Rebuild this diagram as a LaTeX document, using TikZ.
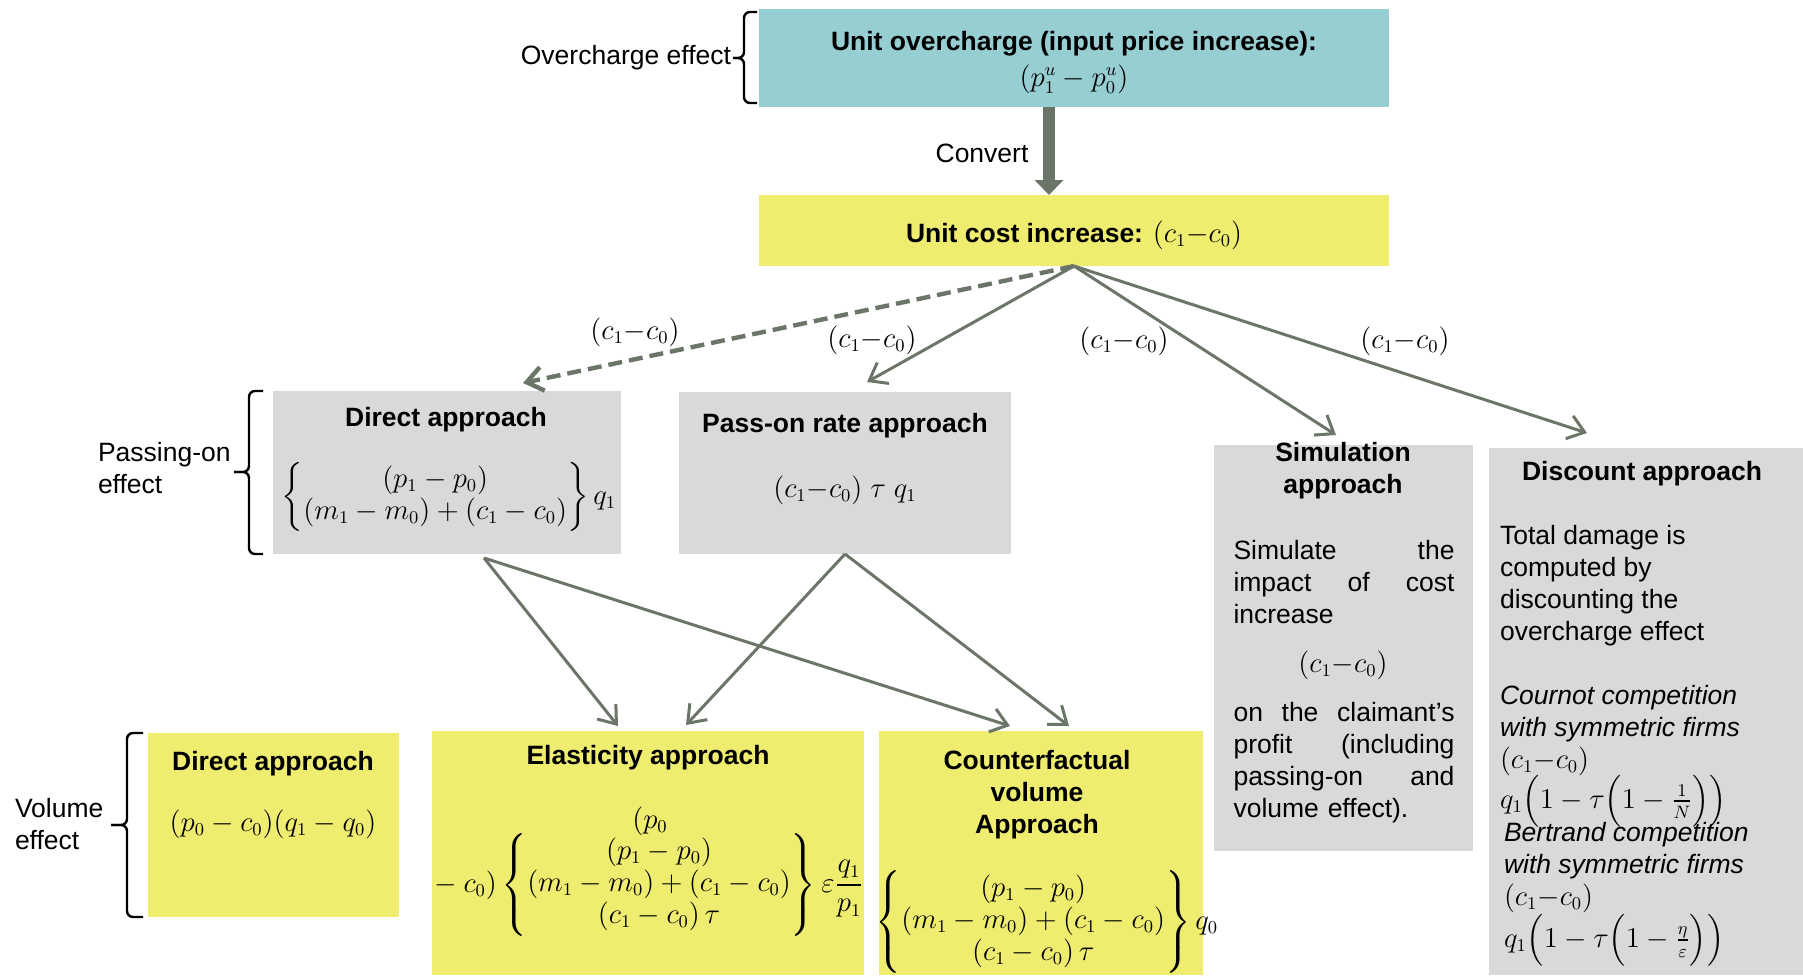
\documentclass[tikz,border=0pt]{standalone}
\usepackage{amsmath}
\usepackage{fontspec}
\setmainfont{Liberation Sans}
\usetikzlibrary{arrows.meta}

\definecolor{linkgrey}{RGB}{108,118,104}
\definecolor{boxgrey}{RGB}{217,217,217}
\definecolor{boxyellow}{RGB}{238,237,112}
\definecolor{boxteal}{RGB}{150,206,210}
\newcommand{\diafont}{\fontsize{13.25pt}{16pt}\selectfont}

\begin{document}
\begin{tikzpicture}[x=0.5pt,y=-0.5pt,
  every node/.style={inner sep=0pt,outer sep=0pt,font=\diafont},
  teal/.style={fill=boxteal},
  yellow/.style={fill=boxyellow},
  grey/.style={fill=boxgrey},
  head/.style={align=center,font=\diafont\bfseries},
  link/.style={draw=linkgrey,line width=1.5pt,-{Straight Barb[length=8pt,width=12pt]}},
  effbrace/.style={line width=1.2pt,rounded corners=3pt}]
\useasboundingbox (0,0) rectangle (1803,975);

% boxes
\node[teal,minimum width=315pt,minimum height=49pt] (over) at (1074,58) {};
\node[yellow,minimum width=315pt,minimum height=35.5pt] (cost) at (1074,230.5) {};
\node[grey,minimum width=174pt,minimum height=81.5pt] (dirpass) at (447,472.5) {};
\node[grey,minimum width=166pt,minimum height=81pt] (passon) at (845,473) {};
\node[grey,minimum width=129.5pt,minimum height=203pt] (simul) at (1343.5,648) {};
\node[grey,minimum width=157pt,minimum height=263.5pt] (disc) at (1646,711.5) {};
\node[yellow,minimum width=125.5pt,minimum height=92pt] (voldir) at (273.5,825) {};
\node[yellow,minimum width=216pt,minimum height=122pt] (elast) at (648,853) {};
\node[yellow,minimum width=162pt,minimum height=122pt] (cfact) at (1041,853) {};

% arrow ends
\path   (523,383) coordinate (dirtip)
        (867,382) coordinate (passtip)
        (1336,435) coordinate (simtip)
        (1587,433) coordinate (disctip)
        (484,558) coordinate (dirsrc)
        (618,726) coordinate (elastleft)
        (686,725) coordinate (elastright)
        (1010,726) coordinate (cfactleft)
        (1069,726) coordinate (cfactright);

% top
\node[head] (overtxt) at (1074,62) {Unit overcharge (input price increase):\\[2pt]\mdseries$(p_1^u-p_0^u)$};
\node[head] (costtxt) at (1074,235) {Unit cost increase: \mdseries$(c_1{-}c_0)$};
\draw[draw=linkgrey,line width=6pt,-{Triangle[length=7.5pt,width=14pt]}]
  ([xshift=-12.5pt]over.south) -- ([xshift=-12.5pt]cost.north);
\node (convert) at (982,153) {Convert};

% braces
\draw[effbrace] (757,12) -- (744,12) -- (744,58) -- (733,58);
\draw[effbrace] (733,58) -- (744,58) -- (744,103) -- (757,103);
\node[anchor=east] (overeff) at (731,58) {Overcharge effect};
\draw[effbrace] (263,391) -- (249,391) -- (249,472) -- (234,472);
\draw[effbrace] (234,472) -- (249,472) -- (249,554) -- (263,554);
\node[anchor=west,align=left] (passeff) at (98,468) {Passing-on\\effect};
\draw[effbrace] (143,733) -- (127,733) -- (127,825) -- (111,825);
\draw[effbrace] (111,825) -- (127,825) -- (127,917) -- (143,917);
\node[anchor=west,align=left] (voleff) at (15,824) {Volume\\effect};

% from the unit cost increase
\draw[link,line width=2.2pt,dash pattern=on 7pt off 3.5pt] (cost.south) -- (dirtip);
\draw[link] (cost.south) -- (passtip);
\draw[link] (cost.south) -- (simtip);
\draw[link] (cost.south) -- (disctip);
\node (lbldir) at (635,332) {$(c_1{-}c_0)$};
\node (lblpass) at (872,340) {$(c_1{-}c_0)$};
\node (lblsim) at (1124,341) {$(c_1{-}c_0)$};
\node (lbldisc) at (1405,341) {$(c_1{-}c_0)$};

% passing-on effect
\node[head] (dirhead) at (446,420) {Direct approach};
\node (dirform) at (449,497) {$\left\{\begin{matrix}(p_1-p_0)\\(m_1-m_0)+(c_1-c_0)\end{matrix}\right\}q_1$};
\node[head] (passhead) at (845,426) {Pass-on rate approach};
\node (passform) at (845,490) {$(c_1{-}c_0)\;\tau\;q_1$};

\draw[link] (dirsrc) -- (elastleft);
\draw[link] (dirsrc) -- (cfactleft);
\draw[link] (passon.south) -- (elastright);
\draw[link] (passon.south) -- (cfactright);

% simulation
\node[head] (simhead) at (1343,471) {Simulation\\approach};
\node[text width=110.5pt,align=left] (simtxta) at (1344,582)
  {Simulate\hfill the\\impact\hfill of\hfill cost\\increase};
\node (simform) at (1343,665) {$(c_1{-}c_0)$};
\node[text width=110.5pt,align=left] (simtxtb) at (1344,763)
  {on\hfill the\hfill claimant’s\\profit\hfill (including\\passing-on\hfill and\\volume effect).};

% discount
\node[head] (dischead) at (1642,474) {Discount approach};
\node[anchor=west,align=left] (disctxt) at (1500,586)
  {Total damage is\\computed by\\discounting the\\overcharge effect};
\node[anchor=west,align=left,font=\diafont\itshape] (cournot) at (1500,714)
  {Cournot competition\\with symmetric firms};
\node[anchor=west] (cournotc) at (1500,761) {$(c_1{-}c_0)$};
\node[anchor=west] (cournotq) at (1500,801) {$q_1\Bigl(1-\tau\Bigl(1-\frac{1}{N}\Bigr)\Bigr)$};
\node[anchor=west,align=left,font=\diafont\itshape] (bertrand) at (1504,851)
  {Bertrand competition\\with symmetric firms};
\node[anchor=west] (bertrandc) at (1504,898) {$(c_1{-}c_0)$};
\node[anchor=west] (bertrandq) at (1504,940) {$q_1\Bigl(1-\tau\Bigl(1-\frac{\eta}{\varepsilon}\Bigr)\Bigr)$};

% volume effect
\node[head] (volhead) at (273,764) {Direct approach};
\node (volform) at (273,824) {$(p_0-c_0)(q_1-q_0)$};
\node[head] (elasthead) at (648,758) {Elasticity approach};
\node (elasttop) at (650,821) {$(p_0$};
\node (elastform) at (646,885) {${}-c_0)\left\{\begin{matrix}(p_1-p_0)\\(m_1-m_0)+(c_1-c_0)\\(c_1-c_0)\,\tau\end{matrix}\right\}\varepsilon\dfrac{q_1}{p_1}$};
\node[head] (cfacthead) at (1037,795) {Counterfactual\\volume\\Approach};
\node (cfactform) at (1047,922) {$\left\{\begin{matrix}(p_1-p_0)\\(m_1-m_0)+(c_1-c_0)\\(c_1-c_0)\,\tau\end{matrix}\right\}q_0$};

\end{tikzpicture}
\end{document}
